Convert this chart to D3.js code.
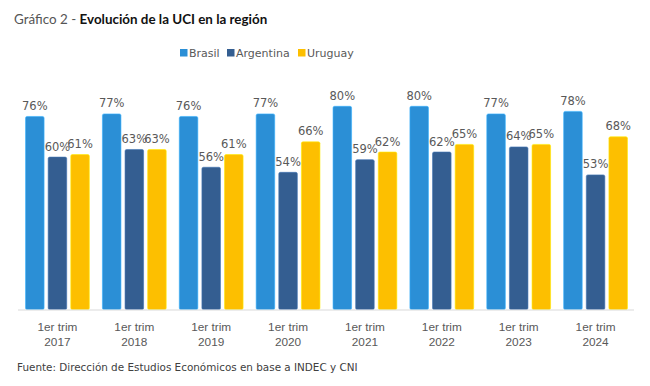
<!DOCTYPE html>
<html><head><meta charset="utf-8">
<script src="https://cdn.jsdelivr.net/npm/d3@7"></script>
<style>
html,body{margin:0;padding:0;background:#fff;}
svg{display:block;font-family:"DejaVu Sans",sans-serif;}
</style></head>
<body><svg id="chart" width="650" height="386"></svg>
<script>
const categories = ["2017","2018","2019","2020","2021","2022","2023","2024"];
const catPrefix = "1er trim";
const seriesNames = ["Brasil","Argentina","Uruguay"];
const brasil    = [76,77,76,77,80,80,77,78];
const argentina = [60,63,56,54,59,62,64,53];
const uruguay   = [61,63,61,66,62,65,65,68];
const colors = ["#2b8fd6","#345e91","#fdbf00"];
const seriesValues = [brasil, argentina, uruguay];

const svg = d3.select("#chart");

// title
const title = svg.append("text").attr("x",14).attr("y",24).attr("font-size",13.4).attr("font-family","Lato, sans-serif");
title.append("tspan").attr("fill","#555").text("Gráfico 2 - ");
title.append("tspan").attr("fill","#111").attr("font-weight","bold").text("Evolución de la UCI en la región");

const x0 = d3.scaleBand().domain(categories).range([19,634]).paddingInner(0.17).paddingOuter(0.085);
const x1 = d3.scaleBand().domain(seriesNames).range([0,x0.bandwidth()]).paddingInner(0.18).paddingOuter(0);
const y = d3.scaleLinear().domain([0,100]).range([309.5,55.5]);
const color = d3.scaleOrdinal().domain(seriesNames).range(colors);

const data = categories.map((c,i)=>({cat:c, vals:seriesNames.map((s,j)=>({s, v:seriesValues[j][i]}))}));

const g = svg.append("g");
const groups = g.selectAll("g.grp").data(data).join("g").attr("class","grp")
  .attr("transform",d=>`translate(${x0(d.cat)},0)`);
groups.selectAll("rect").data(d=>d.vals).join("rect")
  .attr("x",d=>x1(d.s)).attr("width",x1.bandwidth())
  .attr("y",d=>y(d.v)).attr("height",d=>y(0)-y(d.v))
  .attr("rx",1.5)
  .attr("fill",d=>color(d.s))
  .attr("stroke",d=>d3.color(color(d.s)).brighter(0.6)).attr("stroke-width",0.6);
groups.selectAll("text").data(d=>d.vals).join("text")
  .attr("x",d=>x1(d.s)+x1.bandwidth()/2).attr("y",d=>y(d.v)-6.5)
  .attr("text-anchor","middle").attr("font-size",11.5).attr("fill","#595959")
  .text(d=>d.v+"%");

// axis
const xAxis = d3.axisBottom(x0).tickSize(0).tickPadding(0);
const ax = svg.append("g").attr("transform",`translate(0,${y(0)})`).call(xAxis);
ax.select(".domain").attr("d","M18,0.5H634").attr("stroke","#d9d9d9").attr("stroke-width",1.2);
ax.selectAll(".tick text").remove();
ax.selectAll(".tick").each(function(d){
  const t = d3.select(this).append("text").attr("text-anchor","middle").attr("font-size",11.8).attr("fill","#595959");
  t.append("tspan").attr("x",0).attr("y",21.5).text(catPrefix);
  t.append("tspan").attr("x",0).attr("y",36.5).text(d);
});

// legend
const legX = [180,227,298];
const leg = svg.append("g").selectAll("g").data(seriesNames).join("g")
  .attr("transform",(d,i)=>`translate(${legX[i]},49)`);
leg.append("rect").attr("width",7.5).attr("height",7.5).attr("fill",d=>color(d));
leg.append("text").attr("x",9).attr("y",8).attr("font-size",11).attr("fill","#595959").text(d=>d);

// footnote
svg.append("text").attr("x",17).attr("y",371).attr("font-size",10.4).attr("fill","#404040")
  .text("Fuente: Dirección de Estudios Económicos en base a INDEC y CNI");
</script></body></html>
